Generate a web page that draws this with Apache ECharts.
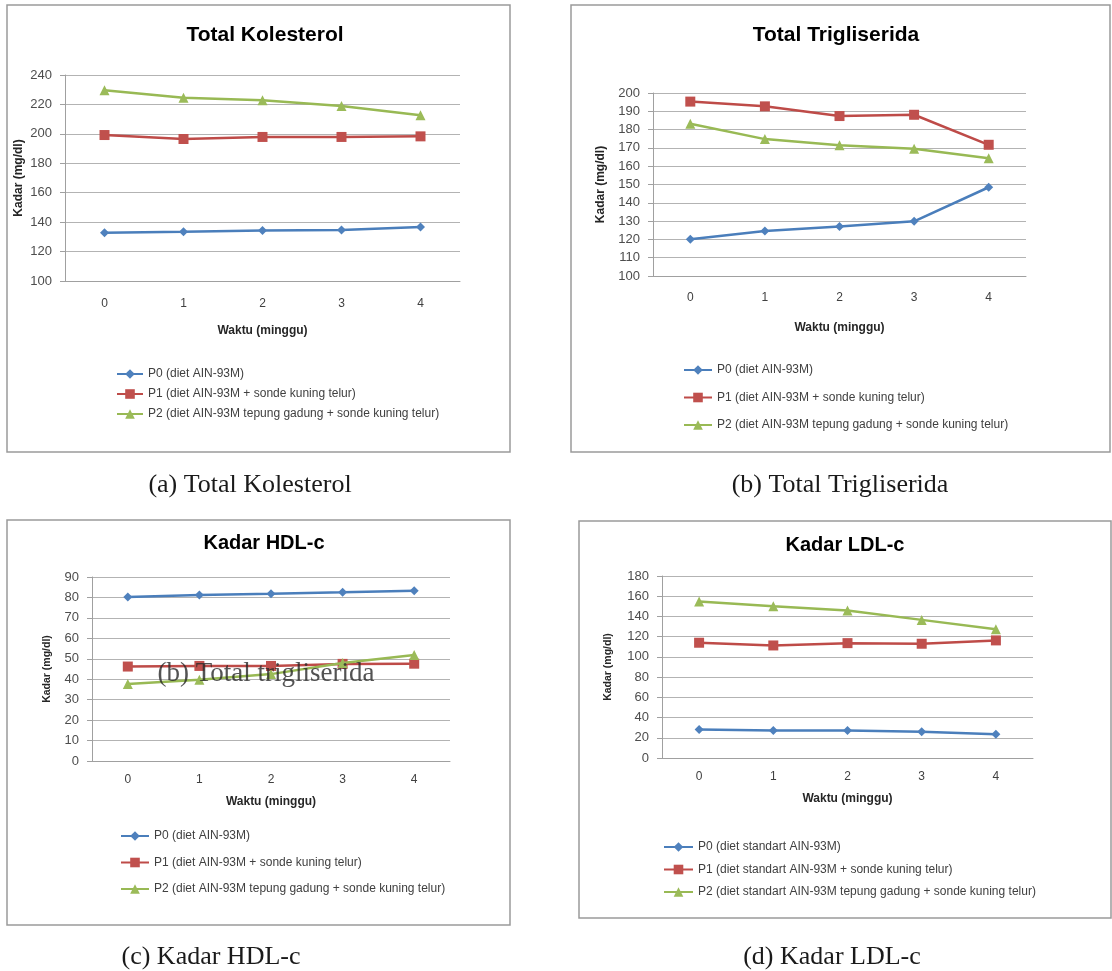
<!DOCTYPE html>
<html>
<head>
<meta charset="utf-8">
<script src="https://cdn.jsdelivr.net/npm/echarts@6/dist/echarts.min.js"></script>
<style>
html,body{margin:0;padding:0;background:#fff;}
#chart{width:1112px;height:971px;}
</style>
</head>
<body>
<div id="chart"></div>
<script>
// ---------- data ----------
const weeks = ['0', '1', '2', '3', '4'];
const namesStd = [
  'P0 (diet AIN-93M)',
  'P1 (diet AIN-93M + sonde kuning telur)',
  'P2 (diet AIN-93M tepung gadung + sonde kuning telur)'
];
const namesLdl = [
  'P0 (diet standart AIN-93M)',
  'P1 (diet standart AIN-93M + sonde kuning telur)',
  'P2 (diet standart AIN-93M tepung gadung + sonde kuning telur)'
];
const titles = ['Total Kolesterol', 'Total Trigliserida', 'Kadar HDL-c', 'Kadar LDL-c'];
const captions = ['(a) Total Kolesterol', '(b) Total Trigliserida', '(c) Kadar HDL-c', '(d) Kadar LDL-c'];
const strayText = '(b) Total trigliserida';
const xName = 'Waktu (minggu)';
const yName = 'Kadar (mg/dl)';

const kolP0 = [132.8, 133.5, 134.4, 134.6, 136.7];
const kolP1 = [199.2, 196.5, 197.9, 197.9, 198.3];
const kolP2 = [229.6, 224.6, 222.8, 218.9, 212.6];

const triP0 = [120.1, 124.6, 127.0, 129.9, 148.5];
const triP1 = [195.3, 192.7, 187.4, 188.1, 171.7];
const triP2 = [183.2, 174.8, 171.4, 169.5, 164.4];

const hdlP0 = [80.2, 81.2, 81.8, 82.5, 83.3];
const hdlP1 = [46.2, 46.5, 46.5, 47.5, 47.6];
const hdlP2 = [37.7, 39.7, 42.5, 47.9, 51.9];

const ldlP0 = [28.2, 27.3, 27.3, 26.0, 23.4];
const ldlP1 = [114.0, 111.3, 113.6, 113.0, 116.3];
const ldlP2 = [154.7, 150.1, 145.8, 136.6, 127.4];

const yRanges = [[100, 240, 20], [100, 200, 10], [0, 90, 10], [0, 180, 20]];

// ---------- layout / style ----------
const seriesData = [[kolP0, kolP1, kolP2], [triP0, triP1, triP2], [hdlP0, hdlP1, hdlP2], [ldlP0, ldlP1, ldlP2]];
const seriesNames = [namesStd, namesStd, namesStd, namesLdl];
const layout = [
  {grid:[65,75,395,206], box:[7,5,503,447], title:[260,20,21], yGap:40, yNameSize:12, xMargin:17, xGap:44, legend:[111,362,26,6], titleC:[250,485]},
  {grid:[653,93,373,183], box:[571,5,539,447], title:[831,20,21], yGap:46, yNameSize:12, xMargin:16, xGap:45.5, legend:[678,358,28,13.5], titleC:[840,485]},
  {grid:[92,577,358,184], box:[7,520,503,405], title:[259,528,20], yGap:39, yNameSize:10.5, xMargin:13, xGap:34.5, legend:[115,824,28,12.5], titleC:[211,957]},
  {grid:[662,576,371,182], box:[579,521,532,397], title:[840,530,20], yGap:48, yNameSize:10.5, xMargin:13, xGap:34.5, legend:[658,835,29,8.5], titleC:[832,957]}
];
const lineColors = ['#4a7ebb', '#be4b48', '#98b954'];
const markColors = ['#4f81bd', '#c0504d', '#9bbb59'];
const symbols = ['diamond', 'rect', 'triangle'];
const symSizes = [9, 10, 10];
const FONT = '"Liberation Sans", Arial, sans-serif';
const SERIF = '"Liberation Serif", "DejaVu Serif", serif';

const option = {
  backgroundColor: '#ffffff',
  animation: false,
  title: [], grid: [], xAxis: [], yAxis: [], legend: [], series: [], graphic: []
};

layout.forEach((L, i) => {
  option.graphic.push({
    type: 'rect', silent: true, z: -10,
    shape: {x: L.box[0], y: L.box[1], width: L.box[2], height: L.box[3]},
    style: {fill: '#ffffff', stroke: '#9a9a9a', lineWidth: 1.5}
  });
  option.graphic.push({
    type: 'text', silent: true,
    style: {
      text: captions[i], x: L.titleC[0], y: L.titleC[1],
      textAlign: 'center', textVerticalAlign: 'middle', align: 'center', verticalAlign: 'middle',
      font: '26px ' + SERIF, fill: '#1a1a1a'
    }
  });
  option.title.push({
    text: titles[i], left: L.title[0], top: L.title[1], textAlign: 'center',
    textStyle: {fontFamily: FONT, fontWeight: 'bold', fontSize: L.title[2], color: '#000'}
  });
  option.grid.push({left: L.grid[0], top: L.grid[1], width: L.grid[2], height: L.grid[3], containLabel: false});
  option.xAxis.push({
    type: 'category', gridIndex: i, data: weeks, boundaryGap: true,
    name: xName, nameLocation: 'middle', nameGap: L.xGap,
    nameTextStyle: {fontFamily: FONT, fontWeight: 'bold', fontSize: 12, color: '#262626'},
    axisLine: {show: true, lineStyle: {color: '#a0a0a0', width: 1}},
    axisTick: {show: false},
    axisLabel: {margin: L.xMargin, fontFamily: FONT, fontSize: 12, color: '#404040'},
    splitLine: {show: false}
  });
  const yr = yRanges[i];
  option.yAxis.push({
    type: 'value', gridIndex: i, min: yr[0], max: yr[1], interval: yr[2],
    name: yName, nameLocation: 'middle', nameGap: L.yGap, nameRotate: 90,
    nameTextStyle: {fontFamily: FONT, fontWeight: 'bold', fontSize: L.yNameSize, color: '#262626'},
    axisLine: {show: true, lineStyle: {color: '#a0a0a0', width: 1}},
    axisTick: {show: true, length: 5, lineStyle: {color: '#a0a0a0'}},
    axisLabel: {margin: 13, fontFamily: FONT, fontSize: 13, color: '#4d4d4d'},
    splitLine: {show: true, lineStyle: {color: '#b3b3b3', width: 1}}
  });
  option.legend.push({
    orient: 'vertical', left: L.legend[0], top: L.legend[1],
    itemWidth: L.legend[2], itemHeight: 12, itemGap: L.legend[3],
    data: seriesNames[i],
    textStyle: {fontFamily: FONT, fontSize: 12, color: '#404040', lineHeight: 14},
    selectedMode: false
  });
  seriesData[i].forEach((vals, k) => {
    option.series.push({
      type: 'line', name: seriesNames[i][k], xAxisIndex: i, yAxisIndex: i,
      data: vals, symbol: symbols[k], symbolSize: symSizes[k], showSymbol: true,
      lineStyle: {color: lineColors[k], width: 2.5},
      itemStyle: {color: markColors[k], borderWidth: 0},
      z: 3 + k
    });
  });
});

option.graphic.push({
  type: 'text', silent: true, z: 100,
  style: {
    text: strayText, x: 266, y: 674,
    textAlign: 'center', textVerticalAlign: 'middle', align: 'center', verticalAlign: 'middle',
    font: '27px ' + SERIF, fill: 'rgba(40,40,40,0.8)'
  }
});

const chart = echarts.init(document.getElementById('chart'), null, {renderer: 'canvas'});
chart.setOption(option);
</script>
</body>
</html>
